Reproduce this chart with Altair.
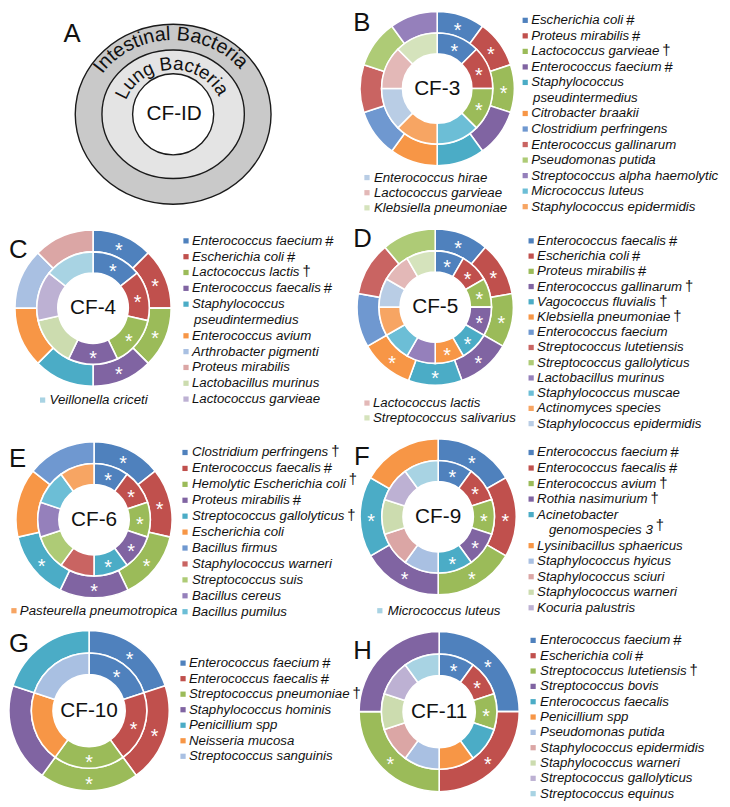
import math
import numpy as np
import pandas as pd
import altair as alt

# ------------------------------------------------------------------ data
B_names = ["Escherichia coli", "Proteus mirabilis", "Lactococcus garvieae", "Enterococcus faecium",
           "Staphylococcus|pseudintermedius", "Citrobacter braakii", "Clostridium perfringens",
           "Enterococcus gallinarum", "Pseudomonas putida", "Streptococcus alpha haemolytic",
           "Micrococcus luteus", "Staphylococcus epidermidis", "Enterococcus hirae",
           "Lactococcus garvieae", "Klebsiella pneumoniae"]
B_marks = ["#", "#", "†", "#"] + [""] * 11
B_outer = [0, 1, 2, 3, 4, 5, 6, 7, 8, 9]
B_inner = [0, 1, 2, 10, 11, 12, 13, 14]

C_names = ["Enterococcus faecium", "Escherichia coli", "Lactococcus lactis", "Enterococcus faecalis",
           "Staphylococcus|pseudintermedius", "Enterococcus avium", "Arthrobacter pigmenti",
           "Proteus mirabilis", "Lactobacillus murinus", "Lactococcus garvieae", "Veillonella criceti"]
C_marks = ["#", "#", "†", "#"] + [""] * 7
C_outer = [0, 1, 2, 3, 4, 5, 6, 7]
C_inner = [0, 1, 2, 3, 8, 9, 10]

D_names = ["Enterococcus faecalis", "Escherichia coli", "Proteus mirabilis", "Enterococcus gallinarum",
           "Vagococcus fluvialis", "Klebsiella pneumoniae", "Enterococcus faecium",
           "Streptococcus lutetiensis", "Streptococcus gallolyticus", "Lactobacillus murinus",
           "Staphylococcus muscae", "Actinomyces species", "Staphylococcus epidermidis",
           "Lactococcus lactis", "Streptococcus salivarius"]
D_marks = ["#", "#", "#", "†", "†", "†"] + [""] * 9
D_outer = [0, 1, 2, 3, 4, 5, 6, 7, 8]
D_inner = [0, 1, 2, 3, 4, 5, 9, 10, 11, 12, 13, 14]

E_names = ["Clostridium perfringens", "Enterococcus faecalis", "Hemolytic Escherichia coli",
           "Proteus mirabilis", "Streptococcus gallolyticus", "Escherichia coli", "Bacillus firmus",
           "Staphylococcus warneri", "Streptococcus suis", "Bacillus cereus", "Bacillus pumilus",
           "Pasteurella pneumotropica"]
E_marks = ["†", "#", "^†", "#", "†"] + [""] * 7
E_outer = [0, 1, 2, 3, 4, 5, 6]
E_inner = [0, 1, 2, 3, 4, 7, 8, 9, 10, 11]

F_names = ["Enterococcus faecium", "Enterococcus faecalis", "Enterococcus avium", "Rothia nasimurium",
           "Acinetobacter|genomospecies 3", "Lysinibacillus sphaericus", "Staphylococcus hyicus",
           "Staphylococcus sciuri", "Staphylococcus warneri", "Kocuria palustris", "Micrococcus luteus"]
F_marks = ["#", "#", "†", "†", "^†"] + [""] * 6
F_outer = [0, 1, 2, 3, 4, 5]
F_inner = [0, 1, 2, 3, 4, 6, 7, 8, 9, 10]

G_names = ["Enterococcus faecium", "Enterococcus faecalis", "Streptococcus pneumoniae",
           "Staphylococcus hominis", "Penicillium spp", "Neisseria mucosa", "Streptococcus sanguinis"]
G_marks = ["#", "#", "†"] + [""] * 4
G_outer = [0, 1, 2, 3, 4]
G_inner = [0, 1, 2, 5, 6]

H_names = ["Enterococcus faecium", "Escherichia coli", "Streptococcus lutetiensis", "Streptococcus bovis",
           "Enterococcus faecalis", "Penicillium spp", "Pseudomonas putida", "Staphylococcus epidermidis",
           "Staphylococcus warneri", "Streptococcus gallolyticus", "Streptococcus equinus"]
H_marks = ["#", "#", "†"] + [""] * 8
H_outer = [0, 1, 2, 3]
H_inner = [0, 1, 2, 4, 5, 6, 7, 8, 9, 10]

A_outer_label = "Intestinal Bacteria"
A_inner_label = "Lung Bacteria"
A_center_label = "CF-ID"

# ------------------------------------------------------------------ styles
BASE = ["#4F81BD", "#C0504D", "#9BBB59", "#8064A2", "#4BACC6", "#F79646"]
MED = ["#6F98D0", "#C96462", "#AECB76", "#9580BB", "#6CBED6", "#F7A563"]
PALE = ["#B9CDE5", "#E3B8B7", "#D5E3BC", "#CCC1DA", "#B7DEE8", "#FCD5B5"]
PALE2 = ["#A9C0E2", "#DBA6A5", "#CCDCAF", "#BDB1D3", "#A8D3E3", "#FAC9A0"]

FONT = "Liberation Sans"
OFF = 8
W, H = 722, 799

CW = {' ': 278, '#': 556, '-': 333, '.': 278, '0': 556, '1': 556, '2': 556, '3': 556, '4': 556,
      '5': 556, '6': 556, '7': 556, '8': 556, '9': 556,
      'A': 667, 'B': 667, 'C': 722, 'D': 722, 'E': 667, 'F': 611, 'G': 778, 'H': 722, 'I': 278,
      'J': 500, 'K': 667, 'L': 556, 'M': 833, 'N': 722, 'O': 778, 'P': 667, 'Q': 778, 'R': 722,
      'S': 667, 'T': 611, 'U': 722, 'V': 667, 'W': 944, 'X': 667, 'Y': 667, 'Z': 611,
      'a': 556, 'b': 556, 'c': 500, 'd': 556, 'e': 556, 'f': 278, 'g': 556, 'h': 556, 'i': 222,
      'j': 222, 'k': 500, 'l': 222, 'm': 833, 'n': 556, 'o': 556, 'p': 556, 'q': 556, 'r': 333,
      's': 500, 't': 278, 'u': 556, 'v': 500, 'w': 722, 'x': 500, 'y': 500, 'z': 500}


def tw(s, fs):
    return sum(CW.get(c, 556) for c in s) * fs / 1000.0


PANELS = [
    dict(key="B", label="CF-3", names=B_names, marks=B_marks, outer=B_outer, inner=B_inner,
         pal2=MED, letter=(357, 27), c=(442, 85), R=78,
         right=(531, 537, 16, 15.7), n_right=12, left=(371, 378, 175, 15.3), indent=2),
    dict(key="C", label="CF-4", names=C_names, marks=C_marks, outer=C_outer, inner=C_inner,
         pal2=PALE2, letter=(9, 256), c=(94, 307), R=79,
         right=(188, 194, 239, 16.0), n_right=10, left=(43, 50, 400, 15.5), indent=2),
    dict(key="D", label="CF-5", names=D_names, marks=D_marks, outer=D_outer, inner=D_inner,
         pal2=MED, letter=(357, 245), c=(440, 306), R=79,
         right=(537, 543, 239, 15.4), n_right=13, left=(371, 377, 403, 15.0), indent=2),
    dict(key="E", label="CF-6", names=E_names, marks=E_marks, outer=E_outer, inner=E_inner,
         pal2=MED, letter=(9, 468), c=(95, 521), R=79,
         right=(187, 194, 453, 16.1), n_right=11, left=(14, 20, 613, 15.5), indent=2),
    dict(key="F", label="CF-9", names=F_names, marks=F_marks, outer=F_outer, inner=F_inner,
         pal2=PALE2, letter=(358, 466), c=(443, 518), R=79,
         right=(537, 543, 453, 15.7), n_right=10, left=(384, 392, 613, 15.5), indent=12),
    dict(key="G", label="CF-10", names=G_names, marks=G_marks, outer=G_outer, inner=G_inner,
         pal2=PALE2, letter=(9, 655), c=(90, 714), R=81,
         right=(185, 191, 666, 15.7), n_right=7, left=(0, 0, 0, 0), indent=2),
    dict(key="H", label="CF-11", names=H_names, marks=H_marks, outer=H_outer, inner=H_inner,
         pal2=PALE2, letter=(357, 662), c=(444, 715), R=81,
         right=(539, 546, 643, 15.5), n_right=11, left=(0, 0, 0, 0), indent=2),
]

LEG_FS = 13.4
STAR_FS = 20


def colour(p, i):
    if i < 6:
        return BASE[i]
    if i < 12:
        return p["pal2"][i - 6]
    return PALE[i - 12]


seg_rows, star_rows, sq_rows, txt_rows, sym_rows, lab_rows = [], [], [], [], [], []

lab_rows.append(dict(x=64 - OFF, y=38 - OFF, text="A", fs=26, baseline="alphabetic", align="left"))
lab_rows.append(dict(x=176 - OFF, y=111 - OFF, text=A_center_label, fs=21, baseline="middle", align="center"))

for p in PANELS:
    cx, cy = p["c"]
    R = p["R"]
    r_hole, r_mid = 0.45 * R, 0.72 * R
    rings = {"outer": (p["outer"], r_mid, R), "inner": (p["inner"], r_hole, r_mid)}
    shared = set(p["outer"]) & set(p["inner"])
    for ring, (members, r0, r1) in rings.items():
        n = len(members)
        for k, sp in enumerate(members):
            seg_rows.append(dict(panel=p["key"], ring=ring, order=k, color=colour(p, sp),
                                 cx=cx - OFF, cy=cy - OFF, ri=r0, ro=r1))
            if sp in shared:
                phi = (k + 0.5) / n * 2 * math.pi
                rm = (r0 + r1) / 2
                star_rows.append(dict(x=cx + rm * math.sin(phi) - OFF,
                                      y=cy - rm * math.cos(phi) + 0.56 * STAR_FS - OFF))
    lab_rows.append(dict(x=cx - OFF, y=cy - OFF, text=p["label"], fs=21, baseline="middle", align="center"))
    lab_rows.append(dict(x=p["letter"][0] - OFF, y=p["letter"][1] - OFF, text=p["key"], fs=26,
                         baseline="alphabetic", align="left"))
    line = 0
    for i, nm in enumerate(p["names"]):
        if i < p["n_right"]:
            sqx, tx, y0, dy = p["right"]
            y = y0 + line * dy
        else:
            sqx, tx, y0, dy = p["left"]
            y = y0 + (i - p["n_right"]) * dy
        parts = nm.split("|")
        sq_rows.append(dict(x=sqx - OFF, y=y - OFF, color=colour(p, i)))
        for k, part in enumerate(parts):
            xx = tx + (p["indent"] if k > 0 else 0)
            txt_rows.append(dict(x=xx - OFF, y=y + k * dy - OFF, text=part))
        if i < p["n_right"]:
            line += len(parts)
        mk = p["marks"][i]
        if mk:
            raised = mk.startswith("^")
            mk = mk.lstrip("^")
            last = parts[-1]
            xx = tx + (p["indent"] if len(parts) > 1 else 0) + tw(last, LEG_FS) + 3
            yy = y + (len(parts) - 1) * dy
            if mk == "#":
                sym_rows.append(dict(x=xx - OFF, y=yy - OFF, text=mk, fs=15))
            else:
                sym_rows.append(dict(x=xx - OFF, y=yy - (5 if raised else 1) - OFF, text=mk, fs=15))


# curved text along ellipses (panel A)
def along_ellipse(text, cx, cy, a, b, fs, shift=0.0):
    widths = [CW.get(ch, 556) * fs / 1000.0 for ch in text]
    total = sum(widths)
    ts = np.linspace(-math.pi, math.pi, 6001)
    ds = np.sqrt((a * np.cos(ts)) ** 2 + (b * np.sin(ts)) ** 2)
    s = np.concatenate([[0.0], np.cumsum((ds[1:] + ds[:-1]) / 2 * np.diff(ts))])
    s0 = float(np.interp(0.0, ts, s))
    rows, cum = [], 0.0
    for ch, w in zip(text, widths):
        sc = s0 - total / 2 + cum + w / 2 + shift
        t = float(np.interp(sc, s, ts))
        ang = math.degrees(math.atan2(b * math.sin(t), a * math.cos(t))) % 360
        rows.append(dict(x=cx + a * math.sin(t) - OFF, y=cy - b * math.cos(t) - OFF,
                         ch=ch, ang=ang, fs=fs))
        cum += w
    return rows


curve_rows = along_ellipse(A_outer_label, 175, 111, 85, 75, 20, -3) + \
    along_ellipse(A_inner_label, 175, 111, 50, 45, 19, -2)

seg_df = pd.DataFrame(seg_rows)
star_df = pd.DataFrame(star_rows)
sq_df = pd.DataFrame(sq_rows)
txt_df = pd.DataFrame(txt_rows)
sym_df = pd.DataFrame(sym_rows)
lab_df = pd.DataFrame(lab_rows)
curve_df = pd.DataFrame(curve_rows)

XN = dict(scale=None, axis=None)


def ellipse(rx, ry, fill):
    k = ry / rx
    path = f"M -1 0 A 1 {k:.4f} 0 1 1 1 0 A 1 {k:.4f} 0 1 1 -1 0 Z"
    return alt.Chart(pd.DataFrame({"v": [0]})).mark_point(
        shape=path, filled=True, fill=fill, stroke="#1a1a1a", strokeWidth=1.4, opacity=1,
        size=4 * rx * rx).encode(x=alt.value(175 - OFF), y=alt.value(111 - OFF))


ell = [ellipse(99, 91, "#C9C9C9"), ellipse(72, 65, "#E4E4E4"), ellipse(41, 41, "#FFFFFF")]

curve = alt.Chart(curve_df).mark_text(font=FONT, baseline="alphabetic", align="center", color="#111").encode(
    x=alt.X("x:Q", **XN), y=alt.Y("y:Q", **XN), text="ch:N",
    angle=alt.Angle("ang:Q", scale=None), size=alt.Size("fs:Q", scale=None, legend=None))

arcs = alt.Chart(seg_df).transform_joinaggregate(
    n="count()", groupby=["panel", "ring"]
).transform_window(
    k="row_number()", groupby=["panel", "ring"], sort=[alt.SortField("order", order="ascending")]
).transform_calculate(
    t0="(datum.k - 1) / datum.n", t1="datum.k / datum.n"
).mark_arc(stroke="white", strokeWidth=1.6).encode(
    x=alt.X("cx:Q", **XN), y=alt.Y("cy:Q", **XN),
    theta=alt.Theta("t0:Q", stack=None, scale=alt.Scale(domain=[0, 1], range=[0, 2 * math.pi])),
    theta2="t1:Q",
    radius=alt.Radius("ro:Q", scale=None), radius2="ri:Q",
    color=alt.Color("color:N", scale=None))

stars = alt.Chart(star_df).mark_text(text="*", font=FONT, fontSize=STAR_FS, color="white",
                                     baseline="alphabetic", align="center").encode(
    x=alt.X("x:Q", **XN), y=alt.Y("y:Q", **XN))

labels_mid = alt.Chart(lab_df[lab_df.baseline == "middle"]).mark_text(
    font=FONT, baseline="middle", align="center", color="#111").encode(
    x=alt.X("x:Q", **XN), y=alt.Y("y:Q", **XN), text="text:N",
    size=alt.Size("fs:Q", scale=None, legend=None))

labels_let = alt.Chart(lab_df[lab_df.baseline == "alphabetic"]).mark_text(
    font=FONT, baseline="alphabetic", align="left", color="#111").encode(
    x=alt.X("x:Q", **XN), y=alt.Y("y:Q", **XN), text="text:N",
    size=alt.Size("fs:Q", scale=None, legend=None))

squares = alt.Chart(sq_df).mark_square(size=28, opacity=1).encode(
    x=alt.X("x:Q", **XN), y=alt.Y("y:Q", **XN), color=alt.Color("color:N", scale=None))

names = alt.Chart(txt_df).mark_text(font=FONT, fontStyle="italic", fontSize=LEG_FS, align="left",
                                    baseline="middle", color="#111").encode(
    x=alt.X("x:Q", **XN), y=alt.Y("y:Q", **XN), text="text:N")

syms = alt.Chart(sym_df).mark_text(font=FONT, align="left", baseline="middle", color="#111").encode(
    x=alt.X("x:Q", **XN), y=alt.Y("y:Q", **XN), text="text:N",
    size=alt.Size("fs:Q", scale=None, legend=None))

chart = alt.layer(*ell, curve, arcs, stars, labels_mid, labels_let, squares, names, syms).properties(
    width=W, height=H, padding=0, autosize=alt.AutoSizeParams(type="none")
).configure_view(stroke=None)

chart.save("out.html", embed_options={"renderer": "svg", "actions": False})
